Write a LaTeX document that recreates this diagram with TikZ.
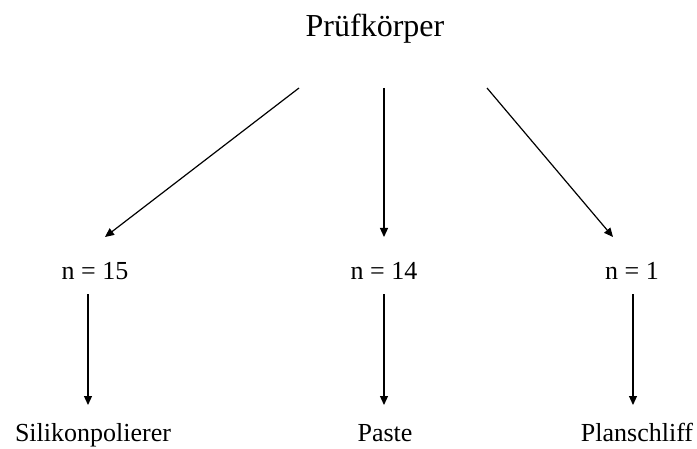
\documentclass[tikz,border=0pt]{standalone}
\usepackage{fontspec}
\setmainfont{Liberation Serif}
\usetikzlibrary{arrows.meta}

\begin{document}
\begin{tikzpicture}[x=1pt, y=1pt]
\tikzset{TitleStyle/.style = {anchor=base, inner sep=0pt, font=\fontsize{32}{36}\selectfont}}
\tikzset{LabelStyle/.style = {anchor=base, inner sep=0pt, font=\fontsize{26}{30}\selectfont}}
\tikzset{EdgeStyle/.style = {line width=1.2pt, -{Triangle[length=9pt, width=8pt]}}}
\useasboundingbox (0,0) rectangle (697,448);
% labels
\node[TitleStyle] (PK) at (375,411) {Prüfkörper};
\foreach \x/\name/\n in {95/1/15, 384/2/14, 632/3/1}
    \node[LabelStyle] (N-\name) at (\x,168) {n = \n};
\foreach \x/\name/\txt in {93/1/Silikonpolierer, 385/2/Paste, 637/3/Planschliff}
    \node[LabelStyle] (M-\name) at (\x,6.5) {\txt};
% arrow ends
\foreach \x/\name in {299/1, 384/2, 487/3}
    \coordinate (PK-\name) at (\x,360);
\foreach \x/\name in {105/1, 384/2, 613/3}
    \coordinate (N-in-\name) at (\x,211);
\foreach \x/\name in {88/1, 384/2, 633/3} {
    \coordinate (N-out-\name) at (\x,154);
    \coordinate (M-in-\name) at (\x,43);
}
% arrows
\foreach \name in {1,2,3} {
    \draw[EdgeStyle] (PK-\name) -- (N-in-\name);
    \draw[EdgeStyle] (N-out-\name) -- (M-in-\name);
}
\end{tikzpicture}
\end{document}
